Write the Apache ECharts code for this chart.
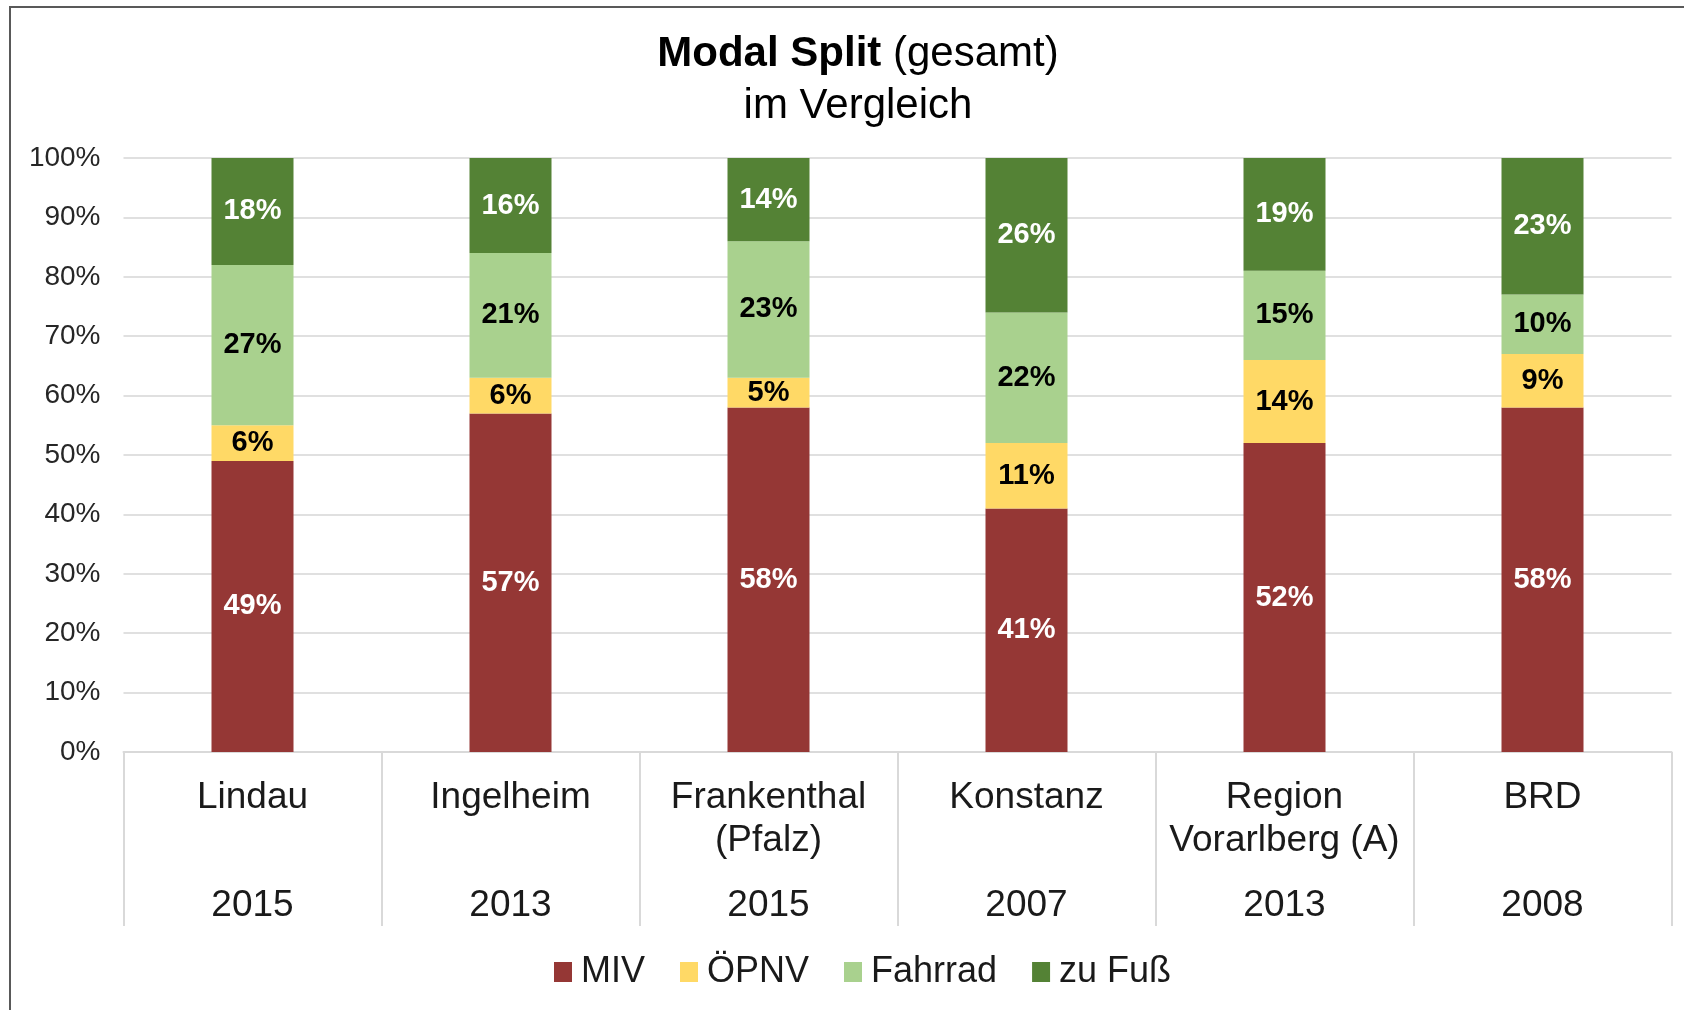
<!DOCTYPE html>
<html>
<head>
<meta charset="utf-8">
<script src="https://cdn.jsdelivr.net/npm/echarts@6/dist/echarts.min.js"></script>
<style>html,body{margin:0;padding:0;background:#fff}#c{width:1684px;height:1010px}</style>
</head>
<body>
<div id="c"></div>
<script>
const categories = ['Lindau', 'Ingelheim', 'Frankenthal\n(Pfalz)', 'Konstanz', 'Region\nVorarlberg (A)', 'BRD'];
const years = ['2015', '2013', '2015', '2007', '2013', '2008'];
const miv = [49, 57, 58, 41, 52, 58];
const oepnv = [6, 6, 5, 11, 14, 9];
const fahrrad = [27, 21, 23, 22, 15, 10];
const zuFuss = [18, 16, 14, 26, 19, 23];
const yTicks = [0, 10, 20, 30, 40, 50, 60, 70, 80, 90, 100];

const FONT = 'Liberation Sans, Arial, sans-serif';
const chart = echarts.init(document.getElementById('c'), null, {renderer: 'canvas'});

function seriesOf(name, data, color, labelColor) {
  return {
    name: name, type: 'bar', stack: 'total', data: data, barWidth: 82,
    xAxisIndex: 0,
    itemStyle: {color: color},
    label: {
      show: true, position: 'inside', formatter: '{c}%',
      fontFamily: FONT, fontWeight: 'bold', fontSize: 29, color: labelColor
    }
  };
}

chart.setOption({
  backgroundColor: '#fff',
  animation: false,
  textStyle: {fontFamily: FONT},
  title: {
    text: '{b|Modal Split} {n|(gesamt)}\n{n|im Vergleich}',
    left: 853, top: 23, textAlign: 'center',
    textStyle: {
      fontFamily: FONT, fontSize: 42, lineHeight: 52, color: '#000',
      rich: {
        b: {fontFamily: FONT, fontSize: 42, fontWeight: 'bold', color: '#000', lineHeight: 52},
        n: {fontFamily: FONT, fontSize: 42, fontWeight: 'normal', color: '#000', lineHeight: 52}
      }
    }
  },
  legend: {
    data: ['MIV', 'ÖPNV', 'Fahrrad', 'zu Fuß'],
    left: 549, top: 949, itemGap: 35,
    icon: 'rect', itemWidth: 18, itemHeight: 20,
    textStyle: {fontFamily: FONT, fontSize: 36, color: '#1a1a1a', padding: [0, 0, 0, 4]}
  },
  grid: {left: 123.5, right: 12.5, top: 158, bottom: 258, containLabel: false},
  xAxis: [{
    type: 'category', data: categories, position: 'bottom',
    axisLine: {show: true, lineStyle: {color: '#d9d9d9', width: 2}},
    axisTick: {show: true, length: 174, lineStyle: {color: '#d9d9d9', width: 2}},
    axisLabel: {fontFamily: FONT, fontSize: 37, lineHeight: 43, color: '#1a1a1a', margin: 24, interval: 0}
  }, {
    type: 'category', data: years, position: 'bottom', offset: 0,
    axisLine: {show: false}, axisTick: {show: false},
    axisLabel: {fontFamily: FONT, fontSize: 37, lineHeight: 43, color: '#1a1a1a', margin: 132, interval: 0}
  }],
  yAxis: {
    type: 'value', min: yTicks[0], max: yTicks[yTicks.length - 1], interval: 10,
    axisLine: {show: false}, axisTick: {show: false},
    splitLine: {show: true, lineStyle: {color: '#e0e0e0', width: 2}},
    axisLabel: {fontFamily: FONT, fontSize: 28, color: '#262626', margin: 23, formatter: '{value}%'}
  },
  series: [
    seriesOf('MIV', miv, '#953735', '#ffffff'),
    seriesOf('ÖPNV', oepnv, '#ffd966', '#000000'),
    seriesOf('Fahrrad', fahrrad, '#a9d18e', '#000000'),
    seriesOf('zu Fuß', zuFuss, '#548235', '#ffffff')
  ],
  graphic: [{
    type: 'rect', silent: true, z: 100,
    shape: {x: 10, y: 7, width: 1800, height: 1200},
    style: {fill: null, stroke: '#595959', lineWidth: 2}
  }]
});
</script>
</body>
</html>
